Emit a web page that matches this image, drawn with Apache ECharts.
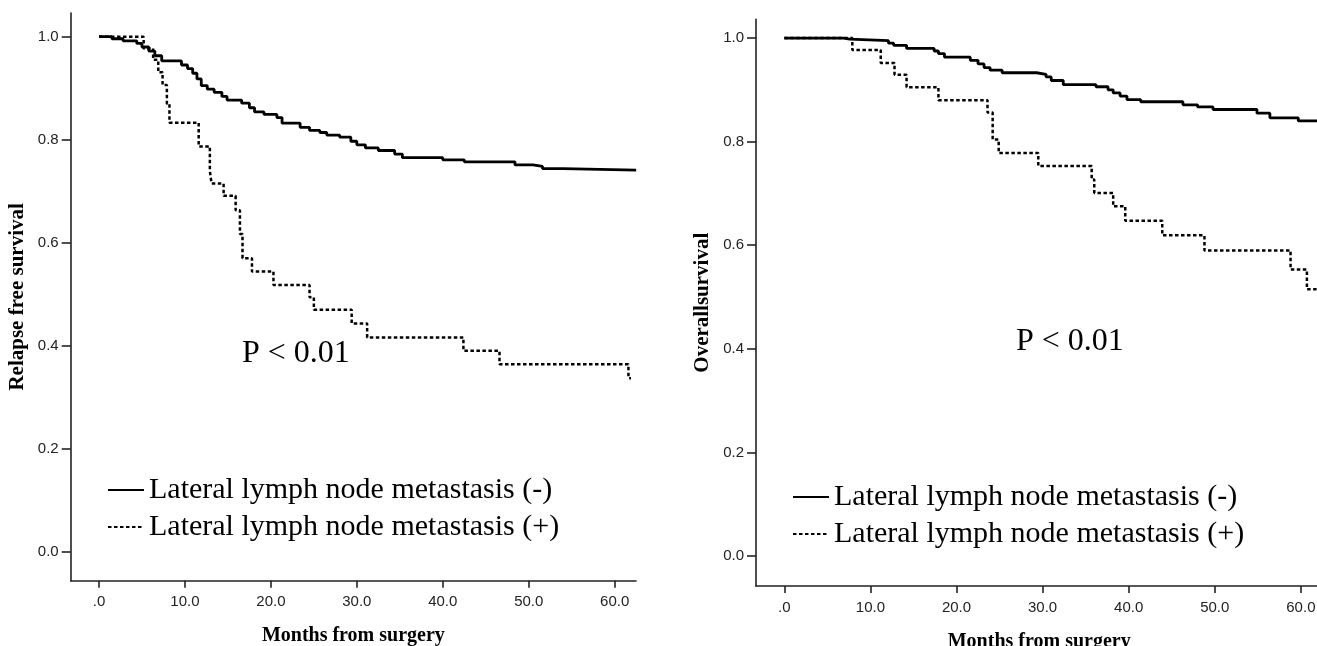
<!DOCTYPE html>
<html>
<head>
<meta charset="utf-8">
<script src="https://cdn.jsdelivr.net/npm/echarts@6/dist/echarts.min.js"></script>
<style>
html,body{margin:0;padding:0;background:#fff;}
#chart{width:1317px;height:646px;}
</style>
</head>
<body>
<div id="chart"></div>
<script>
// ---- data ----
const seriesNames = ['Lateral lymph node metastasis (-)', 'Lateral lymph node metastasis (+)'];
const xTicks = [0, 10, 20, 30, 40, 50, 60];
const yTicks = [0, 0.2, 0.4, 0.6, 0.8, 1.0];
const xTitle = 'Months from surgery';
const yTitleLeft = 'Relapse free survival';
const yTitleRight = 'Overallsurvival';
const pText = 'P < 0.01';

// Relapse free survival, LN metastasis (-)
const rfsNegTime = [0, 1.5, 2.8, 4.4, 5.0, 5.8, 6.5, 7.3, 9.6, 10.3, 10.9, 11.4, 11.9, 12.6, 13.4, 14.3, 14.9, 16.6, 17.5, 18.1, 19.2, 20.7, 21.3, 23.4, 24.5, 25.7, 26.5, 28.0, 29.3, 30.0, 31.0, 32.5, 34.4, 35.3, 40.0, 42.5, 48.4, 50.5, 51.6, 54.0, 62.5];
const rfsNegSurv = [1.0, 0.996, 0.992, 0.987, 0.980, 0.972, 0.963, 0.953, 0.945, 0.938, 0.929, 0.918, 0.905, 0.898, 0.892, 0.884, 0.877, 0.871, 0.862, 0.854, 0.849, 0.843, 0.832, 0.824, 0.818, 0.814, 0.809, 0.805, 0.797, 0.790, 0.784, 0.779, 0.772, 0.765, 0.761, 0.757, 0.751, 0.748, 0.744, 0.741, 0.741];
// Relapse free survival, LN metastasis (+)
const rfsPosTime = [0, 5.2, 6.3, 6.9, 7.4, 7.9, 8.2, 11.6, 12.9, 13.1, 14.5, 15.9, 16.4, 16.7, 17.8, 20.3, 24.5, 25.0, 29.4, 31.2, 42.4, 46.6, 61.6, 61.9];
const rfsPosSurv = [1.0, 0.977, 0.955, 0.931, 0.906, 0.870, 0.833, 0.787, 0.739, 0.715, 0.691, 0.663, 0.617, 0.570, 0.544, 0.518, 0.494, 0.470, 0.443, 0.416, 0.390, 0.364, 0.337, 0.337];
// Overall survival, LN metastasis (-)
const osNegTime = [0, 6.9, 7.6, 12.1, 12.7, 14.2, 17.4, 17.9, 18.6, 21.6, 22.5, 23.2, 23.9, 25.3, 29.3, 30.4, 31.0, 32.4, 36.2, 37.6, 38.2, 39.0, 39.8, 41.4, 46.3, 48.0, 49.8, 54.9, 56.4, 59.7, 62.5];
const osNegSurv = [1.0, 0.998, 0.995, 0.990, 0.986, 0.980, 0.975, 0.970, 0.963, 0.957, 0.950, 0.943, 0.938, 0.933, 0.930, 0.925, 0.918, 0.910, 0.906, 0.900, 0.894, 0.888, 0.881, 0.877, 0.871, 0.867, 0.862, 0.855, 0.846, 0.840, 0.840];
// Overall survival, LN metastasis (+)
const osPosTime = [0, 7.9, 11.2, 12.8, 14.2, 17.9, 23.6, 24.2, 24.9, 29.5, 35.7, 36.0, 38.2, 39.6, 43.9, 48.8, 58.8, 60.7, 62.5];
const osPosSurv = [1.0, 0.977, 0.952, 0.929, 0.905, 0.880, 0.856, 0.804, 0.778, 0.753, 0.727, 0.701, 0.675, 0.647, 0.619, 0.590, 0.553, 0.515, 0.515];

function pairs(t, s) { return t.map((v, i) => [v, s[i]]); }

const serifFont = '"Liberation Serif", "Times New Roman", serif';
const sansFont = '"Liberation Sans", Arial, sans-serif';

function xAxisFor(idx, min, max, gap) {
  return {
    type: 'value', gridIndex: idx, min: min, max: max,
    name: xTitle, nameLocation: 'middle', nameGap: gap,
    nameTextStyle: { fontFamily: serifFont, fontWeight: 'bold', fontSize: 20, color: '#000' },
    axisLine: { show: true, onZero: false, lineStyle: { color: '#222', width: 1.6 } },
    axisTick: { show: true, length: 7, customValues: xTicks, lineStyle: { color: '#222', width: 1.6 } },
    axisLabel: { customValues: xTicks, margin: 14, fontFamily: sansFont, fontSize: 15, color: '#222',
      formatter: v => (v === 0 ? '.0' : v.toFixed(1)) },
    splitLine: { show: false }
  };
}
function yAxisFor(idx, min, max, title) {
  return {
    type: 'value', gridIndex: idx, min: min, max: max,
    name: title, nameLocation: 'middle', nameGap: 43, nameRotate: 90,
    nameTextStyle: { fontFamily: serifFont, fontWeight: 'bold', fontSize: 21, color: '#000' },
    axisLine: { show: true, onZero: false, lineStyle: { color: '#222', width: 1.6 } },
    axisTick: { show: true, length: 9, customValues: yTicks, lineStyle: { color: '#222', width: 1.6 } },
    axisLabel: { customValues: yTicks, margin: 12, fontFamily: sansFont, fontSize: 15, color: '#222',
      formatter: v => v.toFixed(1) },
    splitLine: { show: false }
  };
}
function km(name, idx, data, dotted) {
  return {
    type: 'line', name: name, xAxisIndex: idx, yAxisIndex: idx, step: 'end',
    data: data, symbol: 'none', animation: false, clip: true,
    lineStyle: dotted ? { color: '#000', width: 2.5, type: [3.5, 2.5] } : { color: '#000', width: 2.8, type: 'solid' },
    itemStyle: { color: '#000' }
  };
}
function legendFor(left, top) {
  return {
    orient: 'vertical', left: left, top: top, padding: 0, itemGap: 7,
    itemWidth: 36, itemHeight: 14, selectedMode: false,
    data: seriesNames,
    itemStyle: { opacity: 0 },
    textStyle: { fontFamily: serifFont, fontSize: 30, color: '#000', lineHeight: 30 }
  };
}

const chart = echarts.init(document.getElementById('chart'), null, { renderer: 'canvas' });
chart.setOption({
  backgroundColor: '#fff',
  animation: false,
  grid: [
    { left: 70.7, top: 13, width: 565.3, height: 567.7, outerBoundsMode: 'none' },
    { left: 756, top: 19.4, width: 566.4, height: 566.6, outerBoundsMode: 'none' }
  ],
  xAxis: [xAxisFor(0, -3.29, 62.48, 45), xAxisFor(1, -3.29, 62.5, 46)],
  yAxis: [yAxisFor(0, -0.0563, 1.046, yTitleLeft), yAxisFor(1, -0.058, 1.036, yTitleRight)],
  legend: [legendFor(107, 475), legendFor(792, 482)],
  series: [
    km(seriesNames[0], 0, pairs(rfsNegTime, rfsNegSurv), false),
    km(seriesNames[1], 0, pairs(rfsPosTime, rfsPosSurv), true),
    km(seriesNames[0], 1, pairs(osNegTime, osNegSurv), false),
    km(seriesNames[1], 1, pairs(osPosTime, osPosSurv), true)
  ],
  graphic: [
    { type: 'text', left: 242, top: 338, style: { text: pText, fontFamily: serifFont, fontSize: 32, fill: '#000' } },
    { type: 'text', left: 1016, top: 326, style: { text: pText, fontFamily: serifFont, fontSize: 32, fill: '#000' } }
  ]
});
</script>
</body>
</html>
